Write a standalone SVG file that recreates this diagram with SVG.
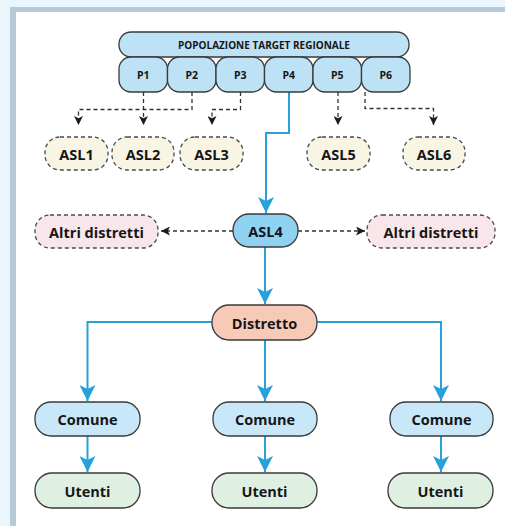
<svg xmlns="http://www.w3.org/2000/svg" width="505" height="526" viewBox="0 0 505 526">
<style>
text{font-family:"Open Sans","Liberation Sans",sans-serif;font-weight:700;fill:#161616;text-anchor:middle;dominant-baseline:central}
.t15{font-size:14.5px}
.t11{font-size:10.5px}
.t10{font-size:10px}
.pop{fill:#bde2f5;stroke:#3a3a3a;stroke-width:1.3}
.asl{fill:#f8f5e4;stroke:#4a4a4a;stroke-width:1.3;stroke-dasharray:4 3}
.altri{fill:#f9e6ea;stroke:#4a4a4a;stroke-width:1.3;stroke-dasharray:4 3}
.asl4{fill:#8ed1f1;stroke:#3a3a3a;stroke-width:1.3}
.dist{fill:#f6cab6;stroke:#3a3a3a;stroke-width:1.3}
.com{fill:#c8e7f8;stroke:#3a3a3a;stroke-width:1.3}
.ute{fill:#dff0e3;stroke:#3a3a3a;stroke-width:1.3}
.blue{fill:none;stroke:#27a1da;stroke-width:2}
.dash{fill:none;stroke:#333;stroke-width:1.3;stroke-dasharray:4 3}
</style>
<defs>
<marker id="ab" viewBox="0 0 16 16" refX="16" refY="8" markerWidth="16" markerHeight="16" markerUnits="userSpaceOnUse" orient="auto">
<path d="M0,0 L16,8 L0,16 L4,8 z" fill="#27a1da"/>
</marker>
<marker id="ad" viewBox="0 0 9 9" refX="9" refY="4.5" markerWidth="9" markerHeight="9" markerUnits="userSpaceOnUse" orient="auto">
<path d="M0,0 L9,4.5 L0,9 L2.2,4.5 z" fill="#1c1c1c"/>
</marker>
</defs>
<rect x="0" y="0" width="505" height="526" fill="#eaf5fc"/>
<rect x="10" y="7" width="495" height="519" fill="#b7cad8"/>
<rect x="16" y="12" width="489" height="514" fill="#ffffff"/>

<g id="connectors">
<path class="dash" d="M143.5,92 V125" marker-end="url(#ad)"/>
<path class="dash" d="M192,92 V109.5 H78.5 V125" marker-end="url(#ad)"/>
<path class="dash" d="M240.5,92 V109.5 H212 V125" marker-end="url(#ad)"/>
<path class="dash" d="M338,92 V125" marker-end="url(#ad)"/>
<path class="dash" d="M365,92 V108.5 H433.5 V125" marker-end="url(#ad)"/>
<path class="blue" d="M289,92 V133 H266 V213" marker-end="url(#ab)"/>
<path class="dash" d="M233,231 H161" marker-end="url(#ad)"/>
<path class="dash" d="M298,231 H365" marker-end="url(#ad)"/>
<path class="blue" d="M265,247 V304" marker-end="url(#ab)"/>
<path class="blue" d="M212,322 H87.5 V401" marker-end="url(#ab)"/>
<path class="blue" d="M265,340 V401" marker-end="url(#ab)"/>
<path class="blue" d="M317,322 H441 V401" marker-end="url(#ab)"/>
<path class="blue" d="M87.5,436 V472" marker-end="url(#ab)"/>
<path class="blue" d="M265,436 V472" marker-end="url(#ab)"/>
<path class="blue" d="M441,436 V472" marker-end="url(#ab)"/>
</g>

<g id="popolazione"><rect class="pop" x="119" y="32" width="290" height="25" rx="12"/><text class="t10" x="264" y="44.5">POPOLAZIONE TARGET REGIONALE</text></g>
<g id="p1"><rect class="pop" x="119" y="57" width="48.5" height="35" rx="12"/><text class="t11" x="143.3" y="75">P1</text></g>
<g id="p2"><rect class="pop" x="167.5" y="57" width="48.5" height="35" rx="12"/><text class="t11" x="191.8" y="75">P2</text></g>
<g id="p3"><rect class="pop" x="216" y="57" width="48.5" height="35" rx="12"/><text class="t11" x="240.3" y="75">P3</text></g>
<g id="p4"><rect class="pop" x="264.5" y="57" width="48.5" height="35" rx="12"/><text class="t11" x="288.8" y="75">P4</text></g>
<g id="p5"><rect class="pop" x="313" y="57" width="48.5" height="35" rx="12"/><text class="t11" x="337.3" y="75">P5</text></g>
<g id="p6"><rect class="pop" x="361.5" y="57" width="48.5" height="35" rx="12"/><text class="t11" x="385.8" y="75">P6</text></g>

<g id="asl1"><rect class="asl" x="45" y="137" width="63" height="33" rx="15"/><text class="t15" x="76.5" y="154">ASL1</text></g>
<g id="asl2"><rect class="asl" x="112" y="137" width="62" height="33" rx="15"/><text class="t15" x="143" y="154">ASL2</text></g>
<g id="asl3"><rect class="asl" x="180" y="137" width="63" height="33" rx="15"/><text class="t15" x="211.5" y="154">ASL3</text></g>
<g id="asl5"><rect class="asl" x="307" y="137" width="63" height="33" rx="15"/><text class="t15" x="338.5" y="154">ASL5</text></g>
<g id="asl6"><rect class="asl" x="403" y="137" width="62" height="33" rx="15"/><text class="t15" x="434" y="154">ASL6</text></g>

<g id="asl4"><rect class="asl4" x="233" y="214" width="65" height="33" rx="16"/><text class="t15" x="265.5" y="231">ASL4</text></g>
<g id="altri-sx"><rect class="altri" x="35" y="215" width="123" height="33" rx="15"/><text class="t15" x="96.5" y="232">Altri distretti</text></g>
<g id="altri-dx"><rect class="altri" x="367" y="215" width="128" height="33" rx="15"/><text class="t15" x="431" y="232">Altri distretti</text></g>

<g id="distretto"><rect class="dist" x="212" y="305" width="105" height="35" rx="17"/><text class="t15" x="264.5" y="323">Distretto</text></g>

<g id="comune1"><rect class="com" x="35" y="402" width="105" height="34" rx="16"/><text class="t15" x="87.5" y="419">Comune</text></g>
<g id="comune2"><rect class="com" x="213" y="402" width="104" height="34" rx="16"/><text class="t15" x="265" y="419">Comune</text></g>
<g id="comune3"><rect class="com" x="390" y="402" width="103" height="34" rx="16"/><text class="t15" x="441.5" y="419">Comune</text></g>

<g id="utenti1"><rect class="ute" x="35" y="473" width="105" height="35" rx="17"/><text class="t15" x="87.5" y="491">Utenti</text></g>
<g id="utenti2"><rect class="ute" x="212" y="473" width="105" height="35" rx="17"/><text class="t15" x="264.5" y="491">Utenti</text></g>
<g id="utenti3"><rect class="ute" x="388" y="473" width="105" height="35" rx="17"/><text class="t15" x="440.5" y="491">Utenti</text></g>
</svg>
